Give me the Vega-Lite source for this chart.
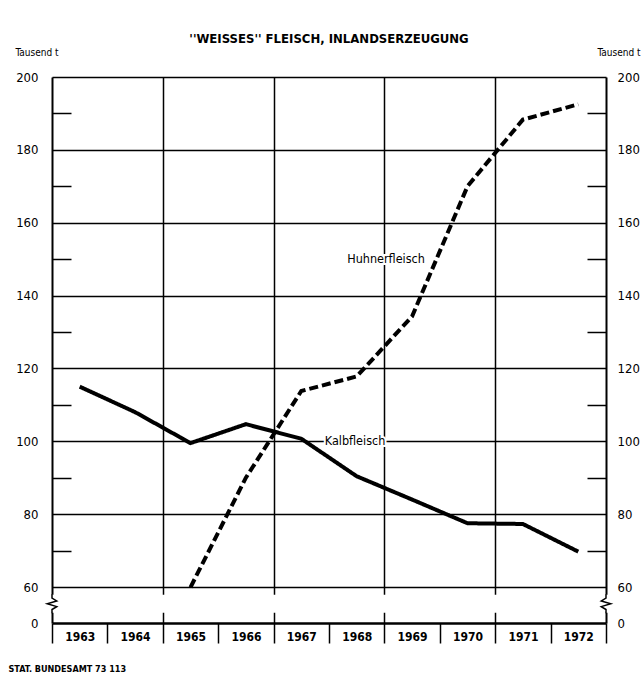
{
  "$schema": "https://vega.github.io/schema/vega-lite/v6.json",
  "width": 554,
  "height": 546,
  "autosize": {"type": "none"},
  "padding": {"left": 52, "top": 77, "right": 36, "bottom": 52},
  "background": "white",
  "title": {
    "text": "''WEISSES'' FLEISCH, INLANDSERZEUGUNG",
    "font": "Liberation Sans Narrow, DejaVu Sans Condensed, sans-serif",
    "fontSize": 13,
    "fontWeight": "bold",
    "color": "black",
    "anchor": "middle",
    "offset": 1
  },
  "data": {
    "values": [
      {"series": "Kalbfleisch", "year": 1963, "value": 115},
      {"series": "Kalbfleisch", "year": 1964, "value": 108},
      {"series": "Kalbfleisch", "year": 1965, "value": 99.5},
      {"series": "Kalbfleisch", "year": 1966, "value": 104.7},
      {"series": "Kalbfleisch", "year": 1967, "value": 100.7},
      {"series": "Kalbfleisch", "year": 1968, "value": 90.4},
      {"series": "Kalbfleisch", "year": 1969, "value": 84},
      {"series": "Kalbfleisch", "year": 1970, "value": 77.5},
      {"series": "Kalbfleisch", "year": 1971, "value": 77.3},
      {"series": "Kalbfleisch", "year": 1972, "value": 69.7},
      {"series": "Huhnerfleisch", "year": 1965, "value": 59.5},
      {"series": "Huhnerfleisch", "year": 1966, "value": 90},
      {"series": "Huhnerfleisch", "year": 1967, "value": 113.8},
      {"series": "Huhnerfleisch", "year": 1968, "value": 117.8},
      {"series": "Huhnerfleisch", "year": 1969, "value": 134.3},
      {"series": "Huhnerfleisch", "year": 1970, "value": 170},
      {"series": "Huhnerfleisch", "year": 1971, "value": 188.3},
      {"series": "Huhnerfleisch", "year": 1972, "value": 192.5}
    ]
  },
  "layer": [
    {
      "data": {"values": [{}]},
      "mark": {"type": "rect", "fill": "white"},
      "encoding": {
        "x": {
          "datum": 1962.4, "type": "quantitative",
          "scale": {"domain": [1962.5, 1972.5], "nice": false, "zero": false},
          "axis": {
            "orient": "bottom",
            "values": [1962.5, 1963.5, 1964.5, 1965.5, 1966.5, 1967.5, 1968.5, 1969.5, 1970.5, 1971.5, 1972.5],
            "labels": false,
            "ticks": true,
            "tickSize": 20,
            "tickWidth": 1.5,
            "tickColor": "black",
            "grid": true,
            "gridOpacity": {"condition": {"test": "datum.value > 1963 && datum.value < 1972 && (datum.value - 0.5) % 2 === 0", "value": 1}, "value": 0},
            "gridColor": "black",
            "gridWidth": 1.5,
            "domain": false,
            "title": null
          }
        },
        "x2": {"datum": 1972.6},
        "y": {
          "datum": 17, "type": "quantitative",
          "scale": {"domain": [0, 60, 200], "range": [546, 510, 0], "nice": false, "zero": false},
          "axis": {
            "orient": "right",
            "values": [0, 60, 70, 80, 90, 100, 110, 120, 130, 140, 150, 160, 170, 180, 190, 200],
            "labelExpr": "datum.value % 20 === 0 ? datum.label : ''",
            "grid": false,
            "ticks": true,
            "tickOpacity": {"condition": {"test": "datum.value % 20 === 10", "value": 1}, "value": 0},
            "tickSize": -19,
            "tickWidth": 1.5,
            "tickColor": "black",
            "domain": true,
            "domainColor": "black",
            "domainWidth": 2,
            "labelPadding": 30,
            "labelFont": "Liberation Sans Narrow, DejaVu Sans Condensed, sans-serif",
            "labelFontSize": 13,
            "labelColor": "black",
            "title": "Tausend t",
            "titleAngle": 0,
            "titleX": -9,
            "titleY": -25,
            "titleAlign": "left",
            "titleBaseline": "middle",
            "titleFont": "Liberation Sans Narrow, DejaVu Sans Condensed, sans-serif",
            "titleFontSize": 10,
            "titleFontWeight": "normal",
            "titleColor": "black"
          }
        },
        "y2": {"datum": 47}
      }
    },
    {
      "data": {"values": [{}]},
      "mark": {"type": "point", "shape": "M0,-1L0,-0.6L0.5,-0.3L-0.5,0L0.5,0.3L0,0.6L0,1", "filled": false, "stroke": "black", "strokeWidth": 1.5, "size": 361, "opacity": 1},
      "encoding": {
        "x": {"datum": 1962.5, "type": "quantitative", "scale": {"domain": [1962.5, 1972.5], "nice": false, "zero": false}, "axis": null},
        "y": {"datum": 32, "type": "quantitative", "scale": {"domain": [0, 60, 200], "range": [546, 510, 0], "nice": false, "zero": false}, "axis": null}
      }
    },
    {
      "data": {"values": [{}]},
      "mark": {"type": "point", "shape": "M0,-1L0,-0.6L-0.5,-0.3L0.5,0L-0.5,0.3L0,0.6L0,1", "filled": false, "stroke": "black", "strokeWidth": 1.5, "size": 361, "opacity": 1},
      "encoding": {
        "x": {"datum": 1972.5, "type": "quantitative", "scale": {"domain": [1962.5, 1972.5], "nice": false, "zero": false}, "axis": null},
        "y": {"datum": 32, "type": "quantitative", "scale": {"domain": [0, 60, 200], "range": [546, 510, 0], "nice": false, "zero": false}, "axis": null}
      }
    },
    {
      "mark": {"type": "line", "color": "black", "strokeWidth": 4, "strokeCap": "butt", "strokeJoin": "miter"},
      "encoding": {
        "x": {
          "field": "year", "type": "quantitative",
          "scale": {"domain": [1962.5, 1972.5], "nice": false, "zero": false},
          "axis": {
            "orient": "bottom",
            "values": [1963, 1964, 1965, 1966, 1967, 1968, 1969, 1970, 1971, 1972],
            "format": "d",
            "labelFlush": false,
            "labelOverlap": false,
            "labelPadding": 8,
            "labelBaseline": "top",
            "labelFont": "Liberation Sans Narrow, DejaVu Sans Condensed, sans-serif",
            "labelFontSize": 12,
            "labelFontWeight": "bold",
            "labelColor": "black",
            "ticks": false,
            "grid": false,
            "domain": true,
            "domainColor": "black",
            "domainWidth": 2.5,
            "title": "STAT. BUNDESAMT 73 113",
            "titleX": -44,
            "titleY": 45,
            "titleAlign": "left",
            "titleAnchor": "start",
            "titleBaseline": "middle",
            "titleFont": "Liberation Sans Narrow, DejaVu Sans Condensed, sans-serif",
            "titleFontSize": 9,
            "titleFontWeight": "bold",
            "titleColor": "black"
          }
        },
        "y": {
          "field": "value", "type": "quantitative",
          "scale": {"domain": [0, 60, 200], "range": [546, 510, 0], "nice": false, "zero": false},
          "axis": {
            "orient": "left",
            "values": [0, 60, 70, 80, 90, 100, 110, 120, 130, 140, 150, 160, 170, 180, 190, 200],
            "labelExpr": "datum.value % 20 === 0 ? datum.label : ''",
            "grid": true,
            "gridOpacity": {"condition": {"test": "datum.value >= 60 && datum.value % 20 === 0", "value": 1}, "value": 0},
            "gridColor": "black",
            "gridWidth": 1.5,
            "ticks": true,
            "tickOpacity": {"condition": {"test": "datum.value % 20 === 10", "value": 1}, "value": 0},
            "tickSize": -19,
            "tickWidth": 1.5,
            "tickColor": "black",
            "domain": true,
            "domainColor": "black",
            "domainWidth": 2,
            "labelPadding": 33,
            "labelFont": "Liberation Sans Narrow, DejaVu Sans Condensed, sans-serif",
            "labelFontSize": 13,
            "labelColor": "black",
            "title": "Tausend t",
            "titleAngle": 0,
            "titleX": -37,
            "titleY": -25,
            "titleAlign": "left",
            "titleBaseline": "middle",
            "titleFont": "Liberation Sans Narrow, DejaVu Sans Condensed, sans-serif",
            "titleFontSize": 10,
            "titleFontWeight": "normal",
            "titleColor": "black"
          }
        },
        "strokeDash": {
          "field": "series", "type": "nominal",
          "scale": {"domain": ["Kalbfleisch", "Huhnerfleisch"], "range": [[1, 0], [9, 4]]},
          "legend": null
        }
      }
    },
    {
      "data": {"values": [{}]},
      "mark": {"type": "text", "text": "Huhnerfleisch", "font": "Liberation Sans Narrow, DejaVu Sans Condensed, sans-serif", "fontSize": 12.5, "fill": "white", "stroke": "white", "strokeWidth": 4, "align": "center", "baseline": "middle"},
      "encoding": {
        "x": {"datum": 1968.53, "type": "quantitative", "scale": {"domain": [1962.5, 1972.5], "nice": false, "zero": false}, "axis": null},
        "y": {"datum": 150, "type": "quantitative", "scale": {"domain": [0, 60, 200], "range": [546, 510, 0], "nice": false, "zero": false}, "axis": null}
      }
    },
    {
      "data": {"values": [{}]},
      "mark": {"type": "text", "text": "Huhnerfleisch", "font": "Liberation Sans Narrow, DejaVu Sans Condensed, sans-serif", "fontSize": 12.5, "fill": "black", "align": "center", "baseline": "middle"},
      "encoding": {
        "x": {"datum": 1968.53, "type": "quantitative", "scale": {"domain": [1962.5, 1972.5], "nice": false, "zero": false}, "axis": null},
        "y": {"datum": 150, "type": "quantitative", "scale": {"domain": [0, 60, 200], "range": [546, 510, 0], "nice": false, "zero": false}, "axis": null}
      }
    },
    {
      "data": {"values": [{}]},
      "mark": {"type": "text", "text": "Kalbfleisch", "font": "Liberation Sans Narrow, DejaVu Sans Condensed, sans-serif", "fontSize": 12.5, "fill": "white", "stroke": "white", "strokeWidth": 4, "align": "center", "baseline": "middle"},
      "encoding": {
        "x": {"datum": 1967.97, "type": "quantitative", "scale": {"domain": [1962.5, 1972.5], "nice": false, "zero": false}, "axis": null},
        "y": {"datum": 100, "type": "quantitative", "scale": {"domain": [0, 60, 200], "range": [546, 510, 0], "nice": false, "zero": false}, "axis": null}
      }
    },
    {
      "data": {"values": [{}]},
      "mark": {"type": "text", "text": "Kalbfleisch", "font": "Liberation Sans Narrow, DejaVu Sans Condensed, sans-serif", "fontSize": 12.5, "fill": "black", "align": "center", "baseline": "middle"},
      "encoding": {
        "x": {"datum": 1967.97, "type": "quantitative", "scale": {"domain": [1962.5, 1972.5], "nice": false, "zero": false}, "axis": null},
        "y": {"datum": 100, "type": "quantitative", "scale": {"domain": [0, 60, 200], "range": [546, 510, 0], "nice": false, "zero": false}, "axis": null}
      }
    }
  ],
  "resolve": {"axis": {"y": "independent", "x": "independent"}},
  "config": {
    "view": {"stroke": null},
    "font": "Liberation Sans Narrow, DejaVu Sans Condensed, sans-serif"
  }
}
